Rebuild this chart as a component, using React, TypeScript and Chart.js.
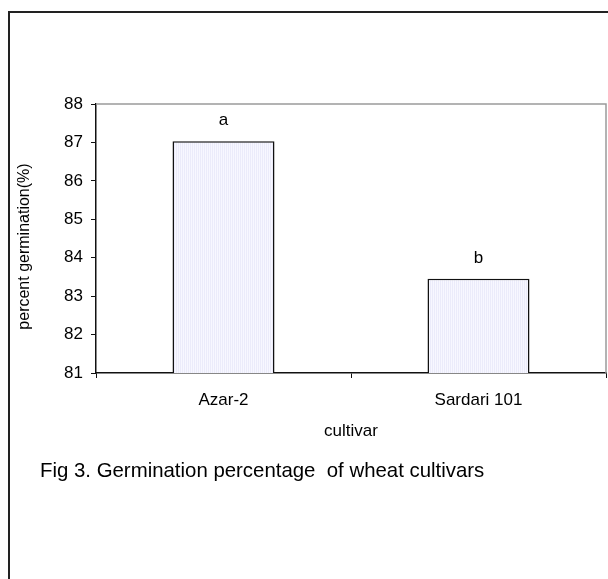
import React, { useEffect, useRef } from "react";
import { Chart, registerables } from "chart.js";

Chart.register(...registerables);

const categories = ["Azar-2", "Sardari 101"];
const germination = [87.03, 83.45];
const letters = ["a", "b"];
const yTicks = [81, 82, 83, 84, 85, 86, 87, 88];
const xTitle = "cultivar";
const yTitle = "percent germination(%)";
const caption = "Fig 3. Germination percentage  of wheat cultivars";

const FONT = "'Liberation Sans', Arial, sans-serif";

function makePattern(): CanvasPattern | string {
  const c = document.createElement("canvas");
  c.width = 2;
  c.height = 1;
  const g = c.getContext("2d");
  if (!g) return "#f0f0fc";
  g.fillStyle = "#ebebfa";
  g.fillRect(0, 0, 1, 1);
  g.fillStyle = "#f7f7ff";
  g.fillRect(1, 0, 1, 1);
  const p = g.createPattern(c, "repeat");
  return p || "#f0f0fc";
}

const decor = {
  id: "decor",
  beforeDraw(chart: any) {
    const { ctx, width, height } = chart;
    ctx.save();
    ctx.fillStyle = "#ffffff";
    ctx.fillRect(0, 0, width, height);
    ctx.strokeStyle = "#222222";
    ctx.lineWidth = 2;
    ctx.beginPath();
    ctx.moveTo(9, height + 2);
    ctx.lineTo(9, 12);
    ctx.lineTo(width + 2, 12);
    ctx.stroke();
    ctx.restore();
  },
  afterDatasetsDraw(chart: any) {
    const { ctx, chartArea } = chart;
    ctx.save();
    ctx.strokeStyle = "#9a9a9a";
    ctx.lineWidth = 1.5;
    ctx.beginPath();
    ctx.moveTo(chartArea.left, chartArea.top);
    ctx.lineTo(chartArea.right, chartArea.top);
    ctx.lineTo(chartArea.right, chartArea.bottom);
    ctx.stroke();
    const meta = chart.getDatasetMeta(0);
    ctx.fillStyle = "#000";
    ctx.font = `17px ${FONT}`;
    ctx.textAlign = "center";
    ctx.textBaseline = "alphabetic";
    meta.data.forEach((bar: any, i: number) => {
      ctx.fillText(letters[i], bar.x, bar.y - 16);
    });
    ctx.restore();
  },
  afterDraw(chart: any) {
    const { ctx, chartArea } = chart;
    ctx.save();
    ctx.fillStyle = "#000";
    ctx.font = `20.4px ${FONT}`;
    ctx.textAlign = "left";
    ctx.textBaseline = "alphabetic";
    ctx.fillText(caption, 40, 477);
    ctx.translate(25, (chartArea.top + chartArea.bottom) / 2 + 8);
    ctx.rotate(-Math.PI / 2);
    ctx.font = `16px ${FONT}`;
    ctx.textAlign = "center";
    ctx.textBaseline = "middle";
    ctx.fillText(yTitle, 0, 0);
    ctx.restore();
  },
};

export default function App() {
  const ref = useRef<HTMLCanvasElement | null>(null);
  useEffect(() => {
    if (!ref.current) return;
    Chart.defaults.font.family = FONT;
    const chart = new Chart(ref.current, {
      type: "bar",
      data: {
        labels: categories,
        datasets: [
          {
            data: germination,
            backgroundColor: makePattern() as any,
            borderColor: "#111111",
            borderWidth: 1.5,
            borderSkipped: "bottom",
            barPercentage: 0.4,
            categoryPercentage: 1,
          },
        ],
      },
      options: {
        responsive: false,
        animation: false,
        layout: { padding: { left: 0, top: 104, right: 2, bottom: 136 } },
        plugins: { legend: { display: false }, tooltip: { enabled: false } },
        scales: {
          x: {
            offset: true,
            grid: {
              offset: true,
              drawOnChartArea: false,
              tickLength: 5,
              color: "#111",
              lineWidth: 1,
            },
            border: { display: true, color: "#111", width: 1.5 },
            ticks: { color: "#000", font: { size: 17 }, padding: 12 },
            title: {
              display: true,
              text: xTitle,
              color: "#000",
              font: { size: 17 },
              padding: { top: 0, bottom: 1 },
            },
            afterFit: (s: any) => {
              s.height = 70;
            },
          },
          y: {
            min: yTicks[0],
            max: yTicks[yTicks.length - 1],
            grid: {
              drawOnChartArea: false,
              tickLength: 5,
              color: "#111",
              lineWidth: 1,
            },
            border: { display: true, color: "#111", width: 1.5 },
            ticks: {
              stepSize: 1,
              color: "#000",
              font: { size: 17 },
              padding: 8,
            },
            afterFit: (s: any) => {
              s.width = 96;
            },
          },
        },
      },
      plugins: [decor],
    });
    return () => chart.destroy();
  }, []);
  return (
    <canvas
      ref={ref}
      width={608}
      height={579}
      style={{ position: "absolute", left: 0, top: 0, width: 608, height: 579 }}
    />
  );
}
